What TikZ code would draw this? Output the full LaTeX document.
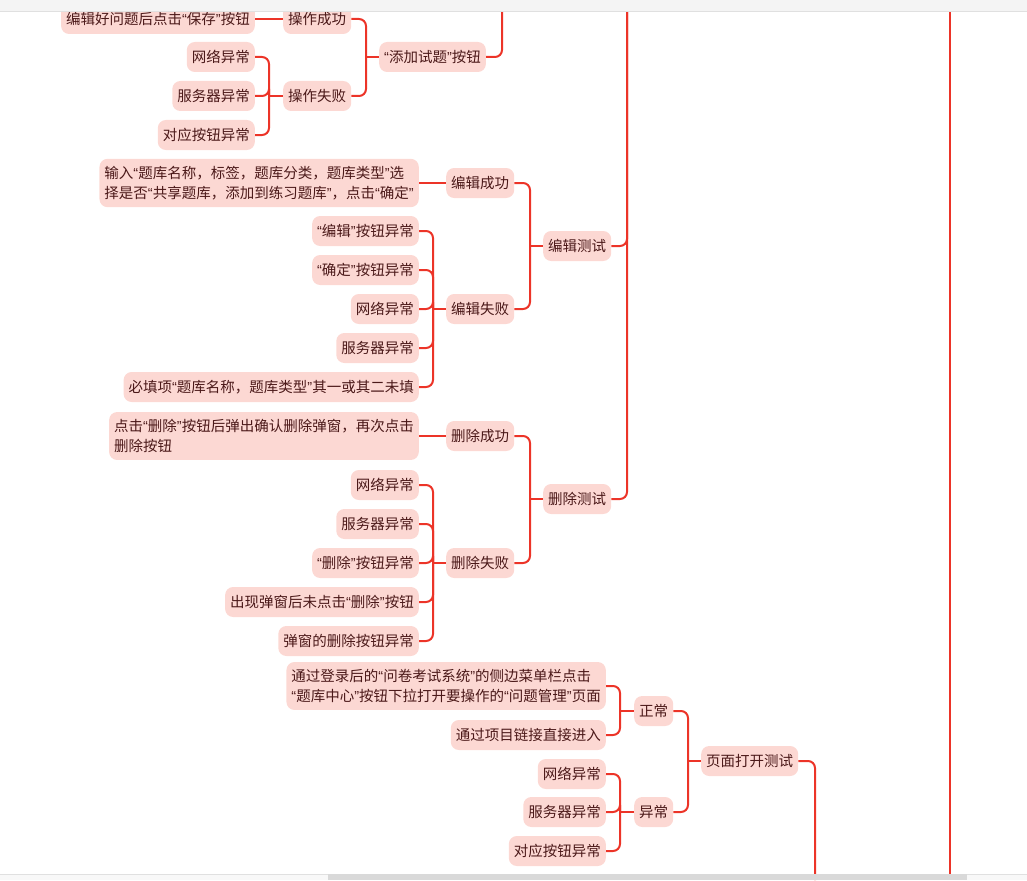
\documentclass[tikz,border=0pt]{standalone}
\usepackage{fontspec}
\setmainfont{Noto Sans CJK SC}
\newfontfamily\quotefont{Liberation Sans}
\newcommand\myqo{{\quotefont “}}
\newcommand\myqc{{\quotefont ”}}
\definecolor{linered}{RGB}{236,52,40}
\definecolor{nodefill}{RGB}{252,216,211}
\definecolor{textcol}{RGB}{75,25,25}
\definecolor{barbg}{RGB}{244,244,244}
\definecolor{barline}{RGB}{224,224,224}
\definecolor{sbbg}{RGB}{248,248,248}
\definecolor{sbthumb}{RGB}{217,217,217}
\tikzset{
  conn/.style={draw=linered, line width=2pt, rounded corners=7pt},
  box/.style={fill=nodefill, rounded corners=8pt, text=textcol, minimum height=30pt,
    inner xsep=5pt, inner ysep=0pt, font=\fontsize{14.5}{19.5}\selectfont},
  leaf/.style={box, anchor=east},
  mid/.style={box, anchor=west},
  twoline/.style={box, anchor=east, align=left, inner ysep=7.5pt}
}
\begin{document}
\begin{tikzpicture}[x=1pt,y=-1pt]
\useasboundingbox (0,0) rectangle (1027,880);
% top/bottom spine ends
\coordinate (t502) at (502,0);
\coordinate (t627) at (627,0);
\coordinate (b815) at (815,880);
\coordinate (t950) at (950,0);
\coordinate (b950) at (950,880);
\draw[conn] (t950) -- (b950);

% group A
\node[leaf] (a1) at (255,19) {编辑好问题后点击\myqo 保存\myqc 按钮};
\node[mid]  (a2) at (283,19) {操作成功};
\node[leaf] (a3) at (255,57) {网络异常};
\node[leaf] (a4) at (255,96) {服务器异常};
\node[leaf] (a5) at (255,135) {对应按钮异常};
\node[mid]  (a6) at (283,96) {操作失败};
\node[mid]  (a7) at (379,57) {\myqo 添加试题\myqc 按钮};
\coordinate (ja6) at (269,96);
\coordinate (ja7) at (366,57);
\draw[conn] (a1.east) -- (a2.west);
\foreach \c in {a3,a4,a5} \draw[conn] (\c.east) -| (ja6);
\draw[conn] (ja6) -- (a6.west);
\foreach \c in {a2,a6} \draw[conn] (\c.east) -| (ja7);
\draw[conn] (ja7) -- (a7.west);
\draw[conn] (a7.east) -| (t502);

% group B
\node[twoline] (b1) at (419,183) {输入\myqo 题库名称，标签，题库分类，题库类型\myqc 选\\择是否\myqo 共享题库，添加到练习题库\myqc ，点击\myqo 确定\myqc};
\node[mid]  (b2) at (446,183) {编辑成功};
\node[leaf] (b3) at (419,231) {\myqo 编辑\myqc 按钮异常};
\node[leaf] (b4) at (419,270) {\myqo 确定\myqc 按钮异常};
\node[leaf] (b5) at (419,309) {网络异常};
\node[leaf] (b6) at (419,348) {服务器异常};
\node[leaf] (b7) at (419,387) {必填项\myqo 题库名称，题库类型\myqc 其一或其二未填};
\node[mid]  (b8) at (446,309) {编辑失败};
\node[mid]  (b9) at (543,246) {编辑测试};
\coordinate (jb8) at (433,309);
\coordinate (jb9) at (530,246);
\draw[conn] (b1.east) -- (b2.west);
\foreach \c in {b3,b4,b5,b6,b7} \draw[conn] (\c.east) -| (jb8);
\draw[conn] (jb8) -- (b8.west);
\foreach \c in {b2,b8} \draw[conn] (\c.east) -| (jb9);
\draw[conn] (jb9) -- (b9.west);
\draw[conn] (b9.east) -| (t627);

% group C
\node[twoline] (c1) at (419,436) {点击\myqo 删除\myqc 按钮后弹出确认删除弹窗，再次点击\\删除按钮};
\node[mid]  (c2) at (446,436) {删除成功};
\node[leaf] (c3) at (419,485) {网络异常};
\node[leaf] (c4) at (419,524) {服务器异常};
\node[leaf] (c5) at (419,563) {\myqo 删除\myqc 按钮异常};
\node[leaf] (c6) at (419,602) {出现弹窗后未点击\myqo 删除\myqc 按钮};
\node[leaf] (c7) at (419,641) {弹窗的删除按钮异常};
\node[mid]  (c8) at (446,563) {删除失败};
\node[mid]  (c9) at (543,499) {删除测试};
\coordinate (jc8) at (433,563);
\coordinate (jc9) at (530,499);
\draw[conn] (c1.east) -- (c2.west);
\foreach \c in {c3,c4,c5,c6,c7} \draw[conn] (\c.east) -| (jc8);
\draw[conn] (jc8) -- (c8.west);
\foreach \c in {c2,c8} \draw[conn] (\c.east) -| (jc9);
\draw[conn] (jc9) -- (c9.west);
\draw[conn] (c9.east) -| (t627);

% group D
\node[twoline] (d1) at (606,686) {通过登录后的\myqo 问卷考试系统\myqc 的侧边菜单栏点击\\\myqo 题库中心\myqc 按钮下拉打开要操作的\myqo 问题管理\myqc 页面};
\node[leaf] (d2) at (606,735) {通过项目链接直接进入};
\node[mid]  (d3) at (634,711) {正常};
\node[leaf] (d4) at (606,774) {网络异常};
\node[leaf] (d5) at (606,812) {服务器异常};
\node[leaf] (d6) at (606,851) {对应按钮异常};
\node[mid]  (d7) at (634,812) {异常};
\node[mid]  (d8) at (701,761) {页面打开测试};
\coordinate (jd3) at (620,711);
\coordinate (jd7) at (620,812);
\coordinate (jd8) at (688,761);
\foreach \c in {d1,d2} \draw[conn] (\c.east) -| (jd3);
\draw[conn] (jd3) -- (d3.west);
\foreach \c in {d4,d5,d6} \draw[conn] (\c.east) -| (jd7);
\draw[conn] (jd7) -- (d7.west);
\foreach \c in {d3,d7} \draw[conn] (\c.east) -| (jd8);
\draw[conn] (jd8) -- (d8.west);
\draw[conn] (d8.east) -| (b815);

% top bar
\fill[barbg] (0,0) rectangle (1027,12);
\draw[barline, line width=1pt] (0,12) -- (1027,12);
% bottom scrollbar
\fill[sbbg] (0,874) rectangle (1027,880);
\draw[barline, line width=0.6pt] (0,874) -- (1027,874);
\fill[sbthumb] (328,874) rectangle (967,880);
\end{tikzpicture}
\end{document}
